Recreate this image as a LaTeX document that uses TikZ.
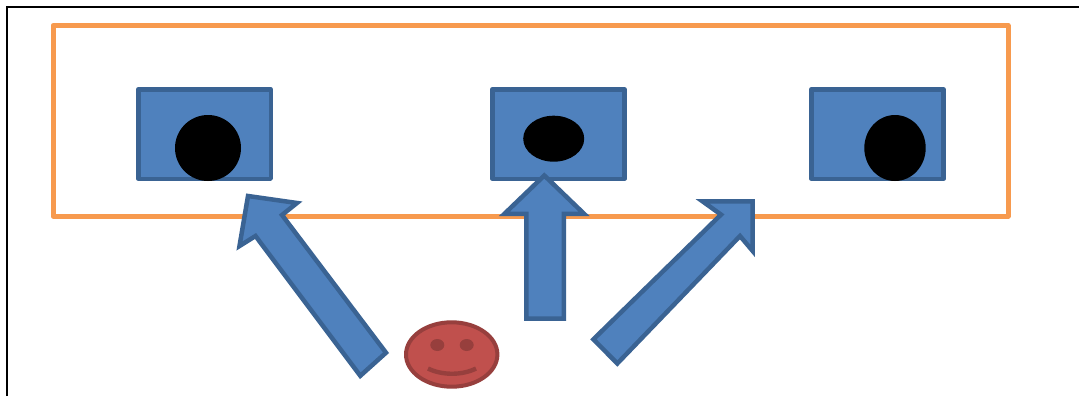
\documentclass[tikz,border=0pt]{standalone}
\definecolor{blueFill}{HTML}{4F81BD}
\definecolor{blueEdge}{HTML}{3A6393}
\definecolor{orangeEdge}{HTML}{F79A4E}
\definecolor{redFill}{HTML}{C0504D}
\definecolor{redEdge}{HTML}{973F3D}
\tikzset{
  framepart/.style={draw=black,line width=1.3pt},
  outerbox/.style={draw=orangeEdge,line width=2.5pt,line join=round},
  screenbox/.style={draw=blueEdge,fill=blueFill,line width=2.25pt,line join=round},
  blockarrow/.style={draw=blueEdge,fill=blueFill,line width=2.25pt,line join=miter,miter limit=10},
  hole/.style={fill=black},
  face/.style={draw=redEdge,fill=redFill,line width=2pt},
  eye/.style={fill=redEdge},
  mouth/.style={draw=redEdge,line width=2.2pt}
}
\begin{document}
\begin{tikzpicture}[x=0.5pt,y=-0.5pt]
\useasboundingbox (0,0) rectangle (1079,396);
\clip (0,0) rectangle (1079,396);
\fill[white] (0,0) rectangle (1079,396);
% outer frame
\draw[framepart] (7,396) -- (7,7) -- (1079,7);
% orange frame
\draw[outerbox] (53,25.5) rectangle (1008,216);
% screens
\draw[screenbox] (138.25,89.25) rectangle (270.75,178.75);
\draw[screenbox] (492.25,89.25) rectangle (624.25,178.75);
\draw[screenbox] (811.25,89.25) rectangle (943.5,178.75);
% holes
\fill[hole] (208,148) ellipse [x radius=33,y radius=33];
\fill[hole] (553.7,138.7) ellipse [x radius=30.5,y radius=23];
\fill[hole] (895,148) ellipse [x radius=30.7,y radius=33];
% arrows
\draw[blockarrow] (248,196) -- (297,203) -- (282,215) -- (386,352.7) -- (360.3,375.8) -- (255.5,236) -- (239.5,246) -- cycle;
\draw[blockarrow] (544.3,175.5) -- (584,213.75) -- (563.75,213.75) -- (563.75,318.5) -- (526.25,318.5) -- (526.25,213.75) -- (504.5,213.75) -- cycle;
\draw[blockarrow] (752.7,201.3) -- (752.7,251) -- (740,236) -- (617.3,363.5) -- (593.4,339.3) -- (721,214.6) -- (702.5,201.3) -- cycle;
% face
\draw[face] (451.7,354.5) ellipse [x radius=45.7,y radius=32.2];
\fill[eye] (437.3,345) ellipse [x radius=7,y radius=6];
\fill[eye] (466.7,345) ellipse [x radius=7,y radius=6];
\draw[mouth] (428,368.5) .. controls (442,375.5) and (462,375.5) .. (476,368.5);
\end{tikzpicture}
\end{document}
